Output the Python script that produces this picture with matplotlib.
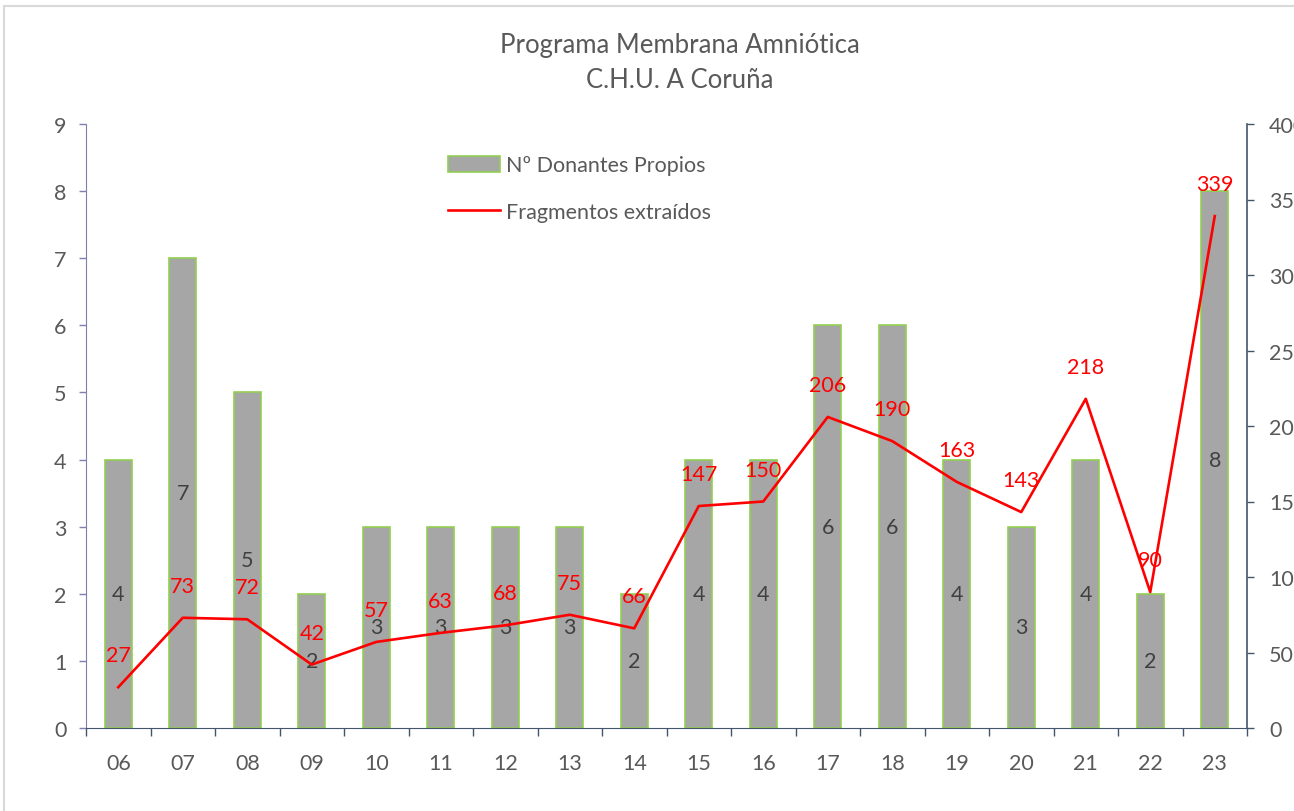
import matplotlib
matplotlib.use('Agg')
import matplotlib.pyplot as plt
from matplotlib.patches import Rectangle
import numpy as np

plt.rcParams['font.family'] = ['Lato', 'DejaVu Sans']

years = ['06', '07', '08', '09', '10', '11', '12', '13', '14',
         '15', '16', '17', '18', '19', '20', '21', '22', '23']
donantes = [4, 7, 5, 2, 3, 3, 3, 3, 2, 4, 4, 6, 6, 4, 3, 4, 2, 8]
fragmentos = [27, 73, 72, 42, 57, 63, 68, 75, 66, 147, 150, 206, 190, 163, 143, 218, 90, 339]

grey_txt = '#595959'
fs = 15.5
x = np.arange(len(years))

fig = plt.figure(figsize=(12.94, 8.12), dpi=100)
ax = fig.add_axes([86 / 1294, 1 - 729 / 812, (1247 - 86) / 1294, (729 - 125) / 812])
ax2 = ax.twinx()

# outer chart border (cut off on the right and bottom)
fig.patches.append(Rectangle((4 / 1294, -0.1), 1.2, 1 - 7 / 812 + 0.1, transform=fig.transFigure,
                             fill=False, edgecolor='#D9D9D9', linewidth=1.5))

bars = ax.bar(x, donantes, width=0.42, color='#A6A6A6', edgecolor='#92D050',
              linewidth=1.2, label='Nº Donantes Propios', zorder=2)
for xi, v in zip(x, donantes):
    ax.text(xi, v / 2, str(v), ha='center', va='center', fontsize=fs, color='#404040', zorder=3)

ax.set_xlim(-0.5, len(years) - 0.5)
ax.set_ylim(0, 9)
ax.set_yticks(range(0, 10))
ax.tick_params(axis='y', direction='out', length=5, width=1, color='#7F7FB0',
               labelcolor=grey_txt, labelsize=fs, pad=9)
ax.set_xticks(x)
ax.set_xticklabels(years)
ax.tick_params(axis='x', which='major', length=0, pad=18, labelsize=fs, labelcolor=grey_txt)
ax.set_xticks(np.arange(-0.5, len(years)), minor=True)
ax.tick_params(axis='x', which='minor', direction='out', length=6, width=1, color='#44546A')

for s in ['top', 'right']:
    ax.spines[s].set_visible(False)
ax.spines['left'].set_color('#7F7FB0')
ax.spines['bottom'].set_color('#44546A')

line, = ax2.plot(x, fragmentos, color='#FF0000', linewidth=1.9, label='Fragmentos extraídos', zorder=4)
for xi, v in zip(x, fragmentos):
    ax2.annotate(str(v), (xi, v), xytext=(0, 23), textcoords='offset points',
                 ha='center', va='center', fontsize=fs, color='#FF0000')

ax2.set_ylim(0, 400)
ax2.set_yticks(range(0, 401, 50))
ax2.tick_params(axis='y', direction='out', length=5, width=1, color='#44546A',
                labelcolor=grey_txt, labelsize=fs, pad=11)
for s in ['top', 'left', 'bottom']:
    ax2.spines[s].set_visible(False)
ax2.spines['right'].set_color('#44546A')
ax2.spines['right'].set_linewidth(1.2)

fig.text(680 / 1294, 1 - 46 / 812, 'Programa Membrana Amniótica', ha='center', va='center',
         fontsize=18.5, color=grey_txt)
fig.text(680 / 1294, 1 - 80 / 812, 'C.H.U. A Coruña', ha='center', va='center',
         fontsize=18.5, color=grey_txt)

fig.legend([bars, line], ['Nº Donantes Propios', 'Fragmentos extraídos'],
           loc='upper left', bbox_to_anchor=(429 / 1294, 1 - 137 / 812), frameon=False,
           fontsize=fs, labelcolor=grey_txt, handlelength=2.4, handleheight=0.8,
           labelspacing=1.25, handletextpad=0.3)

fig.savefig('out.png', dpi=100)
